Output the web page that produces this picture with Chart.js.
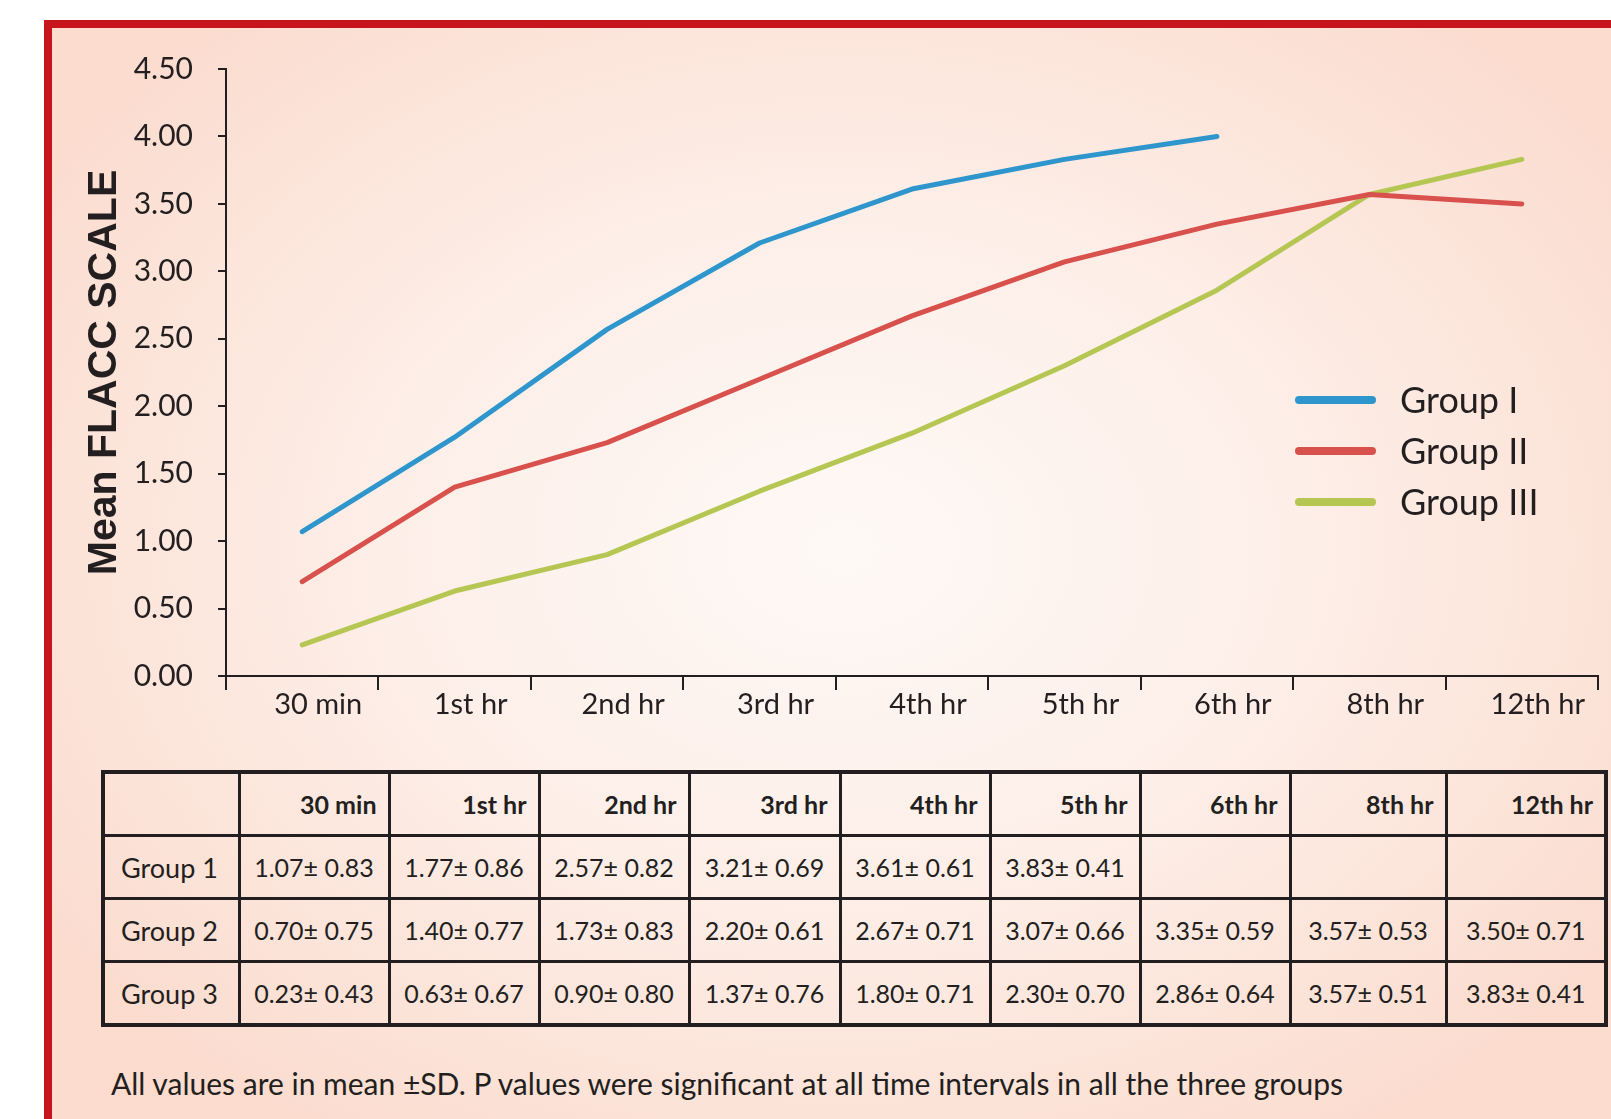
<!DOCTYPE html>
<html>
<head>
<meta charset="utf-8">
<title>Mean FLACC scale</title>
<script src="https://cdn.jsdelivr.net/npm/chart.js@4.4.1/dist/chart.umd.min.js"></script>
<style>
  html, body { margin: 0; padding: 0; background: #fff; }
  body { width: 1611px; height: 1119px; position: relative; overflow: hidden; font-family: Lato, sans-serif; color: #231f20; }
  #panel {
    position: absolute; left: 44px; top: 20px; width: 1620px; height: 1140px;
    border-left: 8px solid #c8151d; border-top: 8px solid #c8151d;
    background: radial-gradient(ellipse 950px 700px at 790px 520px, #fef9f6 0%, #fdeee7 50%, #fbdccf 100%);
  }
  #chart { position: absolute; left: 0; top: 0; z-index: 1; }
  #legend { position: absolute; left: 1295px; top: 374px; z-index: 2; }
  .lg-row { height: 51px; display: flex; align-items: center; }
  .lg-line { width: 81px; height: 8px; border-radius: 4px; margin-right: 24px; }
  .lg-text { font-size: 36px; line-height: 51px; }
  #table {
    position: absolute; left: 101px; top: 770px; z-index: 2;
    border-collapse: collapse; table-layout: fixed; width: 1503px;
    border: 4px solid #231f20;
  }
  #table td, #table th { border: 3px solid #231f20; height: 60px; padding: 0; }
  #table th { font-weight: bold; font-size: 25px; text-align: right; padding-right: 11px; }
  #table td { font-size: 25px; text-align: center; }
  #table td.rowname { font-size: 27px; text-align: left; padding-left: 16px; }
  #note { position: absolute; left: 111px; top: 1065px; font-size: 30px; line-height: 36px; z-index: 2; }
</style>
</head>
<body>
<div id="panel"></div>
<canvas id="chart" width="1611" height="740"></canvas>
<div id="legend"></div>
<table id="table"></table>
<div id="note">All values are in mean ±SD. P values were significant at all time intervals in all the three groups</div>
<script>
const timeLabels = ['30 min', '1st hr', '2nd hr', '3rd hr', '4th hr', '5th hr', '6th hr', '8th hr', '12th hr'];

// means plotted in the chart
const groupIMeans = [1.07, 1.77, 2.57, 3.21, 3.61, 3.83, 4.00, null, null];
const groupIIMeans = [0.70, 1.40, 1.73, 2.20, 2.67, 3.07, 3.35, 3.57, 3.50];
const groupIIIMeans = [0.23, 0.63, 0.90, 1.37, 1.80, 2.30, 2.86, 3.57, 3.83];

// SD values from the table (null = blank cell)
const groupISd = [0.83, 0.86, 0.82, 0.69, 0.61, 0.41, null, null, null];
const groupIISd = [0.75, 0.77, 0.83, 0.61, 0.71, 0.66, 0.59, 0.53, 0.71];
const groupIIISd = [0.43, 0.67, 0.80, 0.76, 0.71, 0.70, 0.64, 0.51, 0.41];

const seriesNames = ['Group I', 'Group II', 'Group III'];
const tableRowNames = ['Group 1', 'Group 2', 'Group 3'];
const seriesColors = ['#2e96cd', '#d9514d', '#b5c653'];

const yMin = 0;
const yMax = 4.5;
const yStep = 0.5;

const ink = '#231f20';
const means = [groupIMeans, groupIIMeans, groupIIIMeans];
const sds = [groupISd, groupIISd, groupIIISd];

new Chart(document.getElementById('chart'), {
    type: 'line',
    data: {
        labels: timeLabels,
        datasets: seriesNames.map((name, i) => ({
            label: name,
            data: means[i],
            borderColor: seriesColors[i],
            backgroundColor: seriesColors[i],
            borderWidth: 5,
            borderCapStyle: 'round',
            borderJoinStyle: 'round',
            pointRadius: 0,
            tension: 0,
            spanGaps: false
        }))
    },
    options: {
        responsive: false,
        animation: false,
        layout: { padding: { left: 0, top: 69, right: 13, bottom: 0 } },
        plugins: { legend: { display: false }, tooltip: { enabled: false } },
        scales: {
            x: {
                offset: true,
                grid: { offset: true, drawOnChartArea: false, tickLength: 14, color: ink, lineWidth: 2 },
                border: { color: ink, width: 2 },
                ticks: { font: { family: 'Lato', size: 29 }, color: ink, padding: -3, labelOffset: 16, maxRotation: 0, autoSkip: false },
                afterFit: (s) => { s.height = 64; }
            },
            y: {
                min: yMin,
                max: yMax,
                grid: { drawOnChartArea: false, tickLength: 8, color: ink, lineWidth: 2 },
                border: { color: ink, width: 2 },
                ticks: { stepSize: yStep, callback: (v) => v.toFixed(2), font: { family: 'Lato', size: 30 }, color: ink, padding: 25 },
                title: {
                    display: true,
                    text: 'Mean FLACC SCALE',
                    color: ink,
                    font: { family: 'Liberation Sans', size: 41, weight: 'bold' },
                    padding: { top: 80, bottom: 0 }
                },
                afterFit: (s) => { s.width = 226; }
            }
        }
    }
});

// legend
const legend = document.getElementById('legend');
seriesNames.forEach((name, i) => {
    const row = document.createElement('div');
    row.className = 'lg-row';
    row.innerHTML = '<div class="lg-line" style="background:' + seriesColors[i] + '"></div><div class="lg-text">' + name + '</div>';
    legend.appendChild(row);
});

// table
const table = document.getElementById('table');
const colWidths = [136, 150, 150, 150, 151, 150, 150, 150, 156, 160];
let html = '<colgroup>' + colWidths.map(w => '<col style="width:' + w + 'px">').join('') + '</colgroup>';
html += '<tr><th></th>' + timeLabels.map(t => '<th>' + t + '</th>').join('') + '</tr>';
tableRowNames.forEach((name, i) => {
    html += '<tr><td class="rowname">' + name + '</td>';
    timeLabels.forEach((t, j) => {
        const sd = sds[i][j];
        const txt = sd == null ? '' : means[i][j].toFixed(2) + '± ' + sd.toFixed(2);
        html += '<td>' + txt + '</td>';
    });
    html += '</tr>';
});
table.innerHTML = html;
</script>
</body>
</html>
